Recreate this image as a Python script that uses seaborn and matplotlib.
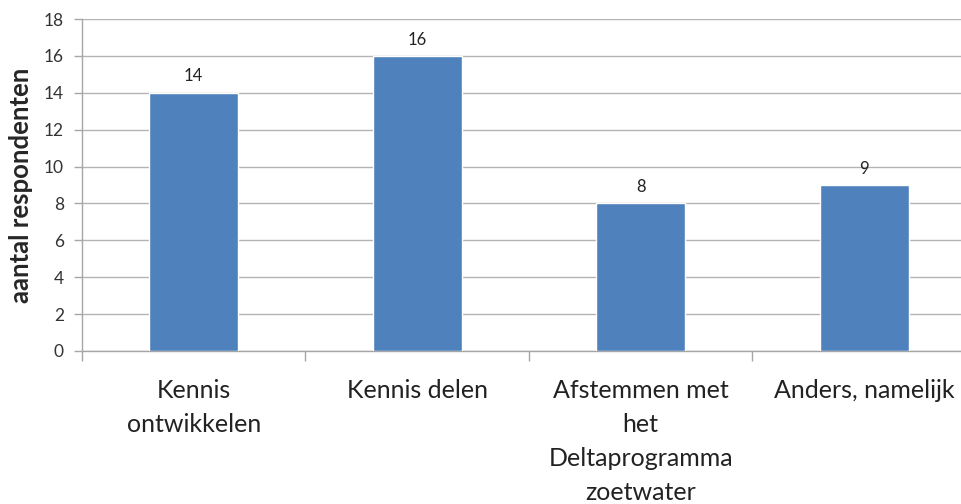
import matplotlib
matplotlib.use("Agg")
import matplotlib.pyplot as plt
import seaborn as sns
import pandas as pd

# --- Data ---
categories = ["Kennis\nontwikkelen", "Kennis delen",
              "Afstemmen met\nhet\nDeltaprogramma\nzoetwater", "Anders, namelijk"]
counts = [14, 16, 8, 9]
y_ticks = [0, 2, 4, 6, 8, 10, 12, 14, 16, 18]

sns.set_theme(style="white")
plt.rcParams['font.family'] = ['Lato', 'DejaVu Sans']

df = pd.DataFrame({"cat": categories, "n": counts})

fig = plt.figure(figsize=(9.62, 5.04), dpi=100)
ax = fig.add_axes([0.0852, 0.3036, 0.9293, 0.6587])

sns.barplot(data=df, x="cat", y="n", color="#4F81BD", width=0.4,
            saturation=1, ax=ax, zorder=3)

ax.set_ylim(0, 18)
ax.set_xlim(-0.5, len(categories) - 0.5)
ax.set_yticks(y_ticks)
ax.yaxis.grid(True, color="#b3b3b3", linewidth=1, zorder=0)
ax.set_axisbelow(True)

for sp in ["top", "right"]:
    ax.spines[sp].set_visible(False)
for sp in ["left", "bottom"]:
    ax.spines[sp].set_color("#a6a6a6")
    ax.spines[sp].set_linewidth(1)

# value labels
for i, v in enumerate(counts):
    ax.text(i, v + 0.45, str(v), ha="center", va="bottom", fontsize=12, color="#222222")

# category boundaries as tick marks
ax.set_xticks([i - 0.5 for i in range(len(categories) + 1)], minor=True)
ax.tick_params(axis="x", which="minor", length=7, width=1, color="#a6a6a6", bottom=True)
ax.tick_params(axis="x", which="major", length=0, pad=20, labelsize=18, labelcolor="#222222")
ax.tick_params(axis="y", length=6, width=1, color="#a6a6a6", left=True, labelsize=12.5,
               labelcolor="#333333", pad=7)
for lbl in ax.get_xticklabels():
    lbl.set_linespacing(1.58)

ax.set_xlabel("")
ax.set_ylabel("aantal respondenten", fontsize=18.5, fontweight="bold", labelpad=8)

fig.savefig("out.png", dpi=100)
